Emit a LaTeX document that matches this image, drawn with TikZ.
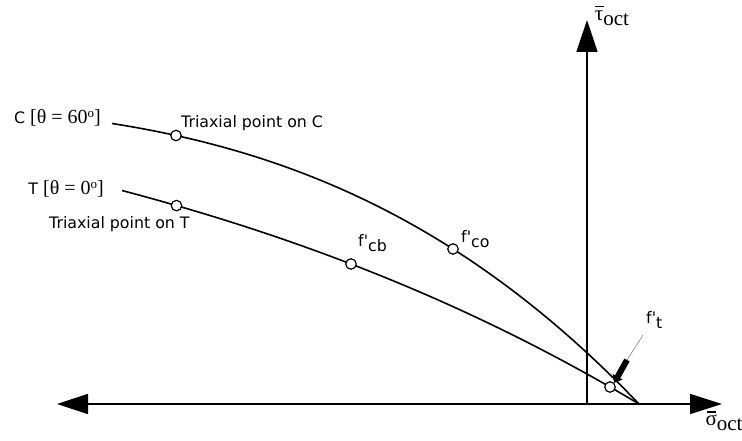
\documentclass[tikz,border=0pt]{standalone}
\usepackage{fontspec}
\setmainfont{DejaVu Sans}
\newfontfamily\plainsans{DejaVu Sans}
\newfontfamily\serifo{Liberation Serif}
\usetikzlibrary{arrows.meta}
\newcommand\barglyph[1]{\ooalign{#1\cr\hidewidth\raisebox{0.62em}{\rule{0.42em}{0.07em}}\hidewidth\cr}}
\tikzset{
  curve/.style={line width=1.6pt, black},
  axis/.style={line width=1.5pt, black},
  pt/.style={circle, draw, line width=1.2pt, fill=white, minimum size=10.5pt, inner sep=0pt},
  lbl/.style={font=\plainsans\fontsize{15.8}{18}\selectfont, inner sep=0pt},
  axlbl/.style={font=\serifo\fontsize{21}{23}\selectfont, inner sep=0pt},
}
\begin{document}
\begin{tikzpicture}[x=1pt,y=-1pt]
\useasboundingbox (0,0) rectangle (742,441);
% axes
\coordinate (O) at (587,404);
\coordinate (L) at (57,404);
\coordinate (R) at (722,404);
\coordinate (U) at (587,20);
\draw[axis, {Triangle[length=31pt,width=20pt]}-{Triangle[length=32pt,width=20pt]}] (L) -- (R);
\draw[axis, -{Triangle[length=32pt,width=21pt]}] (O) -- (U);
\node[axlbl] (tau) at (612,18) {\barglyph{τ}\raisebox{-5pt}{oct}};
\node[axlbl] (sig) at (724,423) {\barglyph{σ}\raisebox{-5pt}{oct}};
% compression meridian C
\draw[curve] plot[domain=112:639, samples=80, smooth]
  (\x, {123.5 + 15.67*((\x-112)/100) + 4.494*((\x-112)/100)^2 + 0.4995*((\x-112)/100)^3});
% tension meridian T
\draw[curve] plot[domain=122:639, samples=80, smooth]
  (\x, {190.5 + 26.45*((\x-122)/100) + 2.143*((\x-122)/100)^2 + 0.1409*((\x-122)/100)^3});
% points
\node[pt] (pc) at (176,135.5) {};
\node[pt] (pt) at (176.5,205.6) {};
\node[pt] (pcb) at (351,264) {};
\node[pt] (pco) at (453,249) {};
\node[pt] (pft) at (610,387) {};
% labels
\node[lbl, anchor=east] (Clab) at (101,118) {C {\serifo\fontsize{20}{22}\selectfont [θ = 60\raisebox{6pt}{\fontsize{13}{14}\selectfont o}]}};
\node[lbl, anchor=east] (Tlab) at (104,189) {T {\serifo\fontsize{20}{22}\selectfont [θ = 0\raisebox{6pt}{\fontsize{13}{14}\selectfont o}]}};
\node[lbl, anchor=west] (trc) at (181,123) {Triaxial point on C};
\node[lbl, anchor=west] (trt) at (49,224) {Triaxial point on T};
\node[lbl, anchor=west] (fcb) at (358,243) {f'\raisebox{-5pt}{cb}};
\node[lbl, anchor=west] (fco) at (461,239) {f'\raisebox{-5pt}{co}};
\node[lbl, anchor=west] (ft) at (646,320) {f'\raisebox{-5pt}{t}};
% arrow to f't
\coordinate (fa) at (643,335);
\coordinate (fb) at (627,360);
\draw[gray, line width=0.6pt] (fa) -- (fb);
\draw[line width=6pt, -{Triangle[length=7pt,width=11pt]}] (fb) -- (pft.north east);
\end{tikzpicture}
\end{document}
